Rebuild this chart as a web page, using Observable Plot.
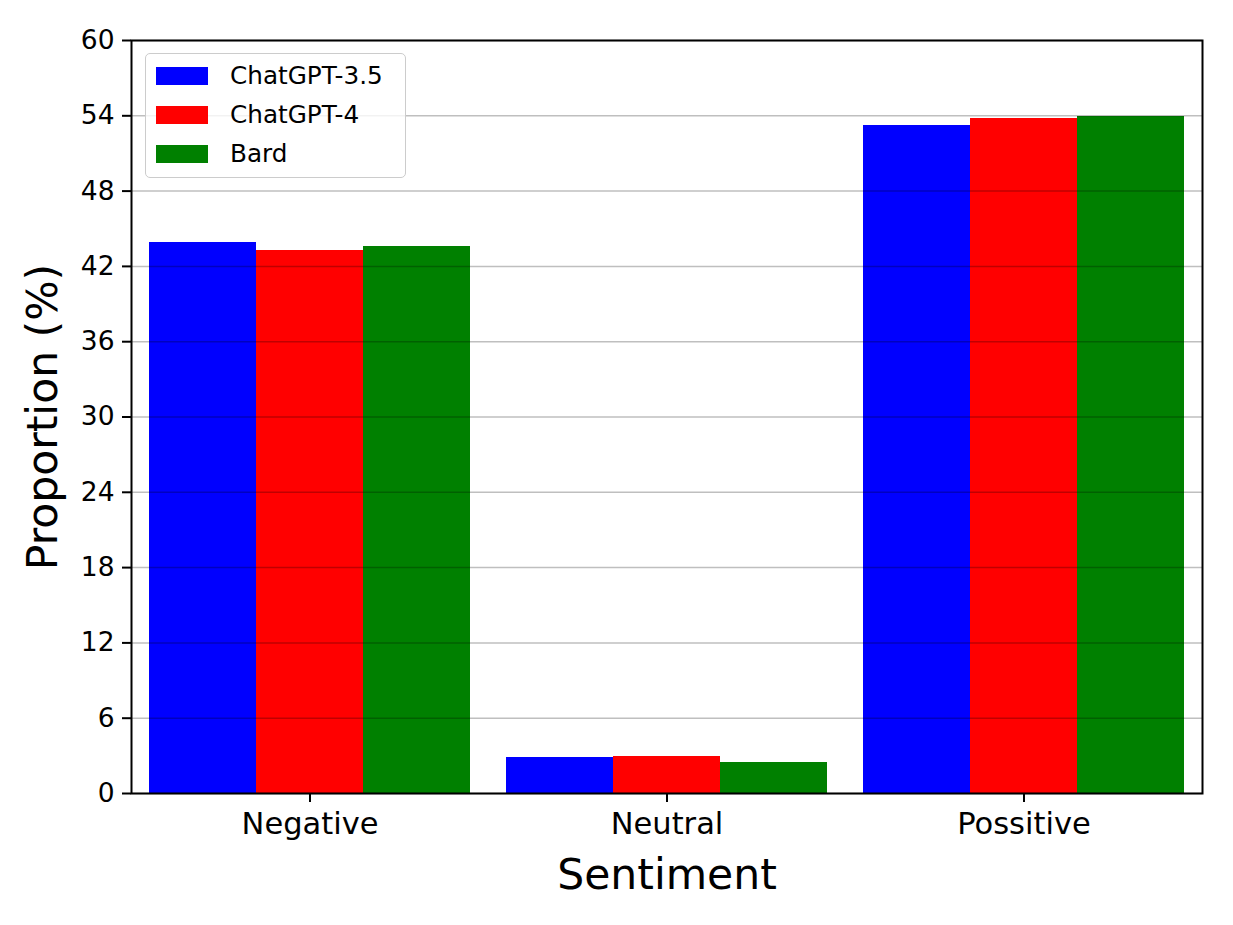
<!DOCTYPE html>
<html>
<head>
<meta charset="utf-8">
<script src="https://cdn.jsdelivr.net/npm/d3@7"></script>
<script src="https://cdn.jsdelivr.net/npm/@observablehq/plot@0.6"></script>
<style>
  html, body { margin: 0; padding: 0; background: #fff; }
  #wrap { position: relative; width: 1233px; height: 925px; font-family: "DejaVu Sans", sans-serif; }
  #wrap svg { font-family: "DejaVu Sans", sans-serif; }
  g[aria-label="y-axis label"] text, g[aria-label="fx-axis label"] text { font-size: 42.5px; }
  g[aria-label="y-axis tick label"] text { font-size: 26.5px; }
  g[aria-label="fx-axis tick label"] text { font-size: 30.5px; }
  .legend { position: absolute; left: 145px; top: 53px; width: 259px; height: 123px;
    border: 1.5px solid #cccccc; border-radius: 5px; background: rgba(255,255,255,0.8); box-sizing: content-box; }
  .legend .item { position: absolute; left: 0; height: 20px; }
  .legend .sw { position: absolute; left: 10px; top: 1px; width: 52px; height: 18px; }
  .legend .lab { position: absolute; left: 84px; top: -5px; font-size: 24.7px; white-space: nowrap; line-height: 30px; }
</style>
</head>
<body>
<div id="wrap"></div>
<script>
const sentiments = ["Negative", "Neutral", "Possitive"];
const models = ["ChatGPT-3.5", "ChatGPT-4", "Bard"];
const colors = ["#0000ff", "#ff0000", "#008000"];
const chatgpt35 = [43.9, 2.87, 53.23];
const chatgpt4 = [43.27, 2.95, 53.8];
const bard = [43.59, 2.47, 53.94];
const yTicks = [0, 6, 12, 18, 24, 30, 36, 42, 48, 54, 60];

const seriesValues = [chatgpt35, chatgpt4, bard];
const data = [];
sentiments.forEach((s, i) => models.forEach((m, j) => data.push({sentiment: s, model: m, value: seriesValues[j][i]})));

const chart = Plot.plot({
  width: 1233,
  height: 925,
  marginTop: 40,
  marginBottom: 132,
  marginLeft: 130,
  marginRight: 30,
  style: {fontFamily: "DejaVu Sans, sans-serif", background: "white"},
  fx: {domain: sentiments, padding: 0, label: "Sentiment", axis: null},
  x: {domain: models, paddingInner: 0, paddingOuter: 0.16, axis: null},
  y: {domain: [0, 60], label: "Proportion (%)"},
  color: {domain: models, range: colors},
  marks: [
    Plot.barY(data, {fx: "sentiment", x: "model", y: "value", fill: "model", inset: 0, shapeRendering: "crispEdges"}),
    Plot.gridY(yTicks, {stroke: "black", strokeOpacity: 0.25, strokeWidth: 1.5}),
    Plot.axisY(yTicks, {tickSize: 9, tickPadding: 8, strokeWidth: 2, label: "Proportion (%)", labelAnchor: "center", labelOffset: 105, labelArrow: "none"}),
    Plot.axisFx({anchor: "bottom", tickSize: 9, tickPadding: 10, strokeWidth: 2, label: "Sentiment", labelAnchor: "center", labelOffset: 95, labelArrow: "none"}),
    Plot.frame({stroke: "black", strokeWidth: 2, facet: "super"})
  ]
});

const wrap = document.getElementById("wrap");
wrap.appendChild(chart);

const legend = document.createElement("div");
legend.className = "legend";
models.forEach((m, j) => {
  const item = document.createElement("div");
  item.className = "item";
  item.style.top = (12 + j * 39) + "px";
  const sw = document.createElement("div");
  sw.className = "sw";
  sw.style.background = colors[j];
  const lab = document.createElement("div");
  lab.className = "lab";
  lab.textContent = m;
  item.appendChild(sw);
  item.appendChild(lab);
  legend.appendChild(item);
});
wrap.appendChild(legend);
</script>
</body>
</html>
